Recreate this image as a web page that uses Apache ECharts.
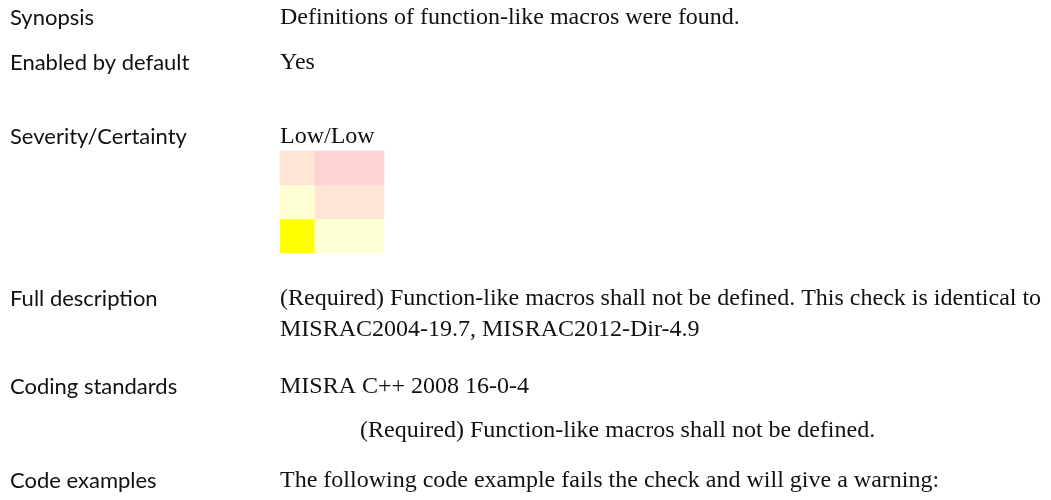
<!DOCTYPE html>
<html>
<head>
<meta charset="utf-8">
<script src="https://cdn.jsdelivr.net/npm/echarts@6/dist/echarts.min.js"></script>
<style>
html,body{margin:0;padding:0;background:#fff;}
#c{width:1051px;height:500px;}
</style>
</head>
<body>
<div id="c"></div>
<script>
// Data
const severity = ['Low', 'Medium', 'High'];
const certainty = ['Low', 'Medium', 'High'];
// [severityIndex, certaintyIndex, level]  level: 0 = current (Low/Low), 1 = low, 2 = medium, 3 = high
const cells = [
  [0, 0, 0], [1, 0, 1], [2, 0, 1],
  [0, 1, 1], [1, 1, 2], [2, 1, 2],
  [0, 2, 2], [1, 2, 3], [2, 2, 3]
];
const labels = ['Synopsis', 'Enabled by default', 'Severity/Certainty', 'Full description', 'Coding standards', 'Code examples'];
const values = [
  ['Definitions of function-like macros were found.'],
  ['Yes'],
  ['Low/Low'],
  ['(Required) Function-like macros shall not be defined. This check is identical to', 'MISRAC2004-19.7, MISRAC2012-Dir-4.9'],
  ['MISRA C++ 2008 16-0-4'],
  ['The following code example fails the check and will give a warning:']
];
const standardNote = '(Required) Function-like macros shall not be defined.';

const rowY = [18, 63, 137, 299, 387, 481];
const noteY = 431;
const lineGap = 31;
const labelFont = '22px "Lato", "Open Sans", sans-serif';
const valueFont = '24px "Liberation Serif", "DejaVu Serif", serif';

const graphics = [];
labels.forEach((t, i) => {
  graphics.push({type: 'text', x: 10, y: rowY[i], style: {text: t, font: labelFont, fill: '#111', verticalAlign: 'middle'}});
  values[i].forEach((line, j) => {
    graphics.push({type: 'text', x: 280, y: rowY[i] + j * lineGap, style: {text: line, font: valueFont, fill: '#111', verticalAlign: 'middle'}});
  });
});
graphics.push({type: 'text', x: 360, y: noteY, style: {text: standardNote, font: valueFont, fill: '#111', verticalAlign: 'middle'}});

const chart = echarts.init(document.getElementById('c'));
chart.setOption({
  animation: false,
  backgroundColor: '#fff',
  grid: {left: 280, top: 151, width: 104, height: 102},
  xAxis: {type: 'category', data: severity, show: false},
  yAxis: {type: 'category', data: certainty, show: false},
  visualMap: {
    show: false,
    type: 'piecewise',
    dimension: 2,
    pieces: [
      {value: 0, color: '#ffff00'},
      {value: 1, color: '#ffffd4'},
      {value: 2, color: '#ffe6d4'},
      {value: 3, color: '#ffd2d6'}
    ]
  },
  graphic: graphics,
  series: [{
    type: 'heatmap',
    data: cells,
    itemStyle: {borderWidth: 0},
    emphasis: {disabled: true}
  }]
});
</script>
</body>
</html>
